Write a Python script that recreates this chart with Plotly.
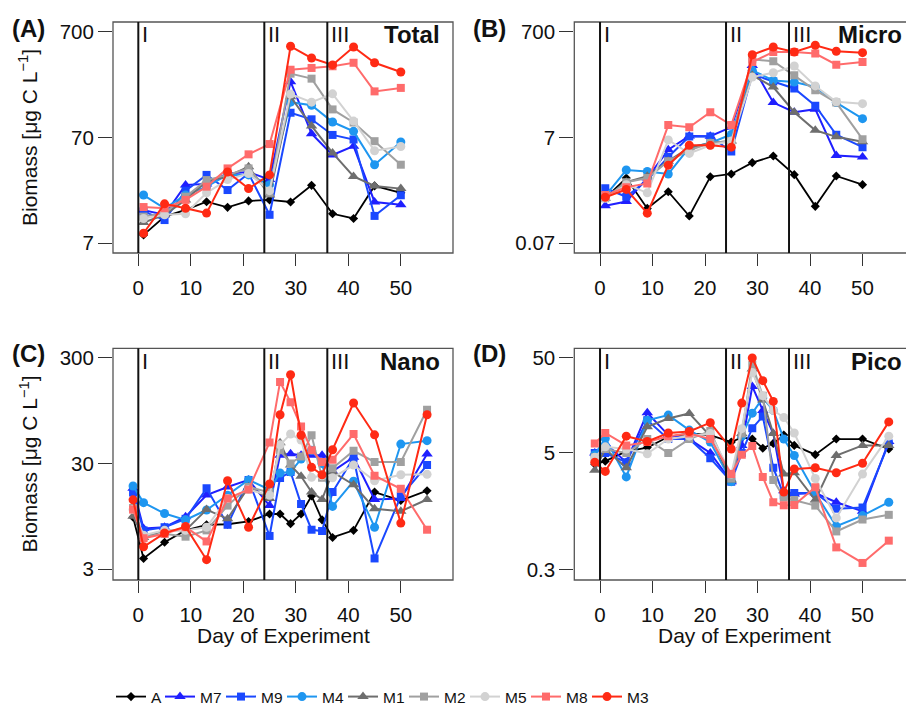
import plotly.graph_objects as go

# ---------------- data ----------------
days_ab = [1, 5, 9, 13, 17, 21, 25, 29, 33, 37, 41, 45, 50]
days_cd = [-1, 1, 5, 9, 13, 17, 21, 25, 27, 29, 31, 33, 35, 37, 41, 45, 50, 55]

series_names = ["A", "M7", "M9", "M4", "M1", "M2", "M5", "M8", "M3"]

total = {
    "A":  [8.4, 12.5, 14.5, 17.3, 15.3, 17.6, 18, 17.2, 24.7, 13.3, 12, 24.4, 21],
    "M7": [14.4, 13, 24.9, 25.5, 32, 33, 28, 236, 76, 47.8, 58, 17.2, 16.2],
    "M9": [14, 11.6, 22, 31, 22.3, 32, 13, 120, 104, 74, 67, 12.7, 19.9],
    "M4": [20, 15, 20, 24, 31, 31, 25, 151, 141, 98, 80, 38.7, 63.5],
    "M1": [11, 13, 18, 27, 30, 37, 20, 170, 90, 50, 30, 24.4, 23],
    "M2": [12.5, 13.5, 19.3, 27.7, 31, 35.7, 21, 281, 252, 129, 97, 64.6, 38.7],
    "M5": [12, 13, 13.3, 21, 28, 32, 22, 180, 151, 181, 100, 52.5, 57.6],
    "M8": [15.4, 15, 18, 24, 35.7, 48.5, 60.7, 306, 318, 330, 356, 191, 206],
    "M3": [8.7, 16.5, 15, 13.5, 33, 23, 31, 510, 395, 340, 502, 356, 291],
}

micro = {
    "A":  [0.50, 1.2, 0.32, 0.66, 0.23, 1.27, 1.43, 2.34, 3.13, 1.39, 0.35, 1.31, 0.90],
    "M7": [0.36, 0.43, 1.2, 4.1, 7.5, 7.4, 11, 160, 32, 21, 24, 3.2, 3.0],
    "M9": [0.77, 0.53, 1.1, 3.0, 7.3, 7.3, 3.8, 110, 80, 59, 28, 7.9, 4.6],
    "M4": [0.55, 1.7, 1.6, 1.43, 4.5, 5.5, 8, 130, 84, 78, 63, 32, 15.9],
    "M1": [0.5, 1.0, 1.3, 2.5, 4.5, 5.5, 6, 105, 63, 21, 9.6, 7.2, 5.8],
    "M2": [0.5, 1.0, 1.2, 2.5, 4.0, 5.5, 6, 210, 193, 105, 55, 32, 6.5],
    "M5": [0.5, 0.9, 0.63, 6.3, 3.5, 5.0, 6, 97, 117, 157, 66, 33, 30.5],
    "M8": [0.57, 0.8, 0.95, 12, 10.9, 21, 12, 187, 290, 290, 270, 166, 187],
    "M3": [0.52, 0.73, 0.26, 2.1, 5.0, 5.0, 4.6, 257, 360, 289, 387, 298, 281],
}

nano = {
    "A":  [9.3, 3.8, 5.4, 7.0, 7.9, 8.0, 8.5, 10, 10, 8.1, 10, 14.8, 8.8, 6.0, 7.0, 16.1, 13.4, 16.6],
    "M7": [17.5, 7.3, 7.5, 9.4, 15.1, 18, 21, 12, 36, 37, 36, 36, 36, 25.3, 34.4, 13.7, 14, 36.9],
    "M9": [16, 7, 7.5, 9, 17.5, 7.9, 21, 6.2, 21.9, 25, 12.4, 7.1, 6.9, 16.1, 34, 3.8, 14.7, 29],
    "M4": [18.4, 12.8, 10.1, 8.8, 10.9, 15, 21, 17, 24.4, 25, 33, 40, 30, 11.8, 20.4, 7.5, 45.8, 49.3],
    "M1": [9.5, 6, 7, 7, 11, 9, 18, 14, 47, 29, 22.7, 16.1, 13.7, 25, 18.9, 11.2, 10.6, 13.7],
    "M2": [11.4, 6.1, 6.5, 6.1, 7, 12, 18, 16, 40, 30, 35, 55.5, 22, 27, 39.6, 31, 31, 96.8],
    "M5": [11, 6.3, 7, 7, 7.5, 14, 17, 15, 45, 57, 50, 22.2, 23, 22, 29, 20.6, 23.5, 23.7],
    "M8": [11, 5.9, 6.5, 7.5, 5.5, 14, 17, 47.5, 177, 114, 67, 40, 31, 32.6, 57, 23, 17.3, 7.1],
    "M3": [13.6, 4.9, 6.6, 7.6, 3.7, 20.6, 7.5, 19.2, 86.7, 207, 55.5, 27.6, 23.5, 40.5, 112, 56, 8.2, 86.7],
}

pico = {
    "A":  [3.8, 4.1, 5.2, 5.7, 7.4, 8.0, 7.7, 6.5, 7.3, 7.0, 5.6, 6.3, 7.7, 6.0, 4.8, 7.0, 7.0, 5.5],
    "M7": [5.0, 6.3, 4.0, 13.2, 7.7, 7.0, 5.0, 2.5, 6, 25, 14, 8, 2.0, 1.85, 1.9, 1.52, 1.22, 6.6],
    "M9": [5, 5, 4, 11, 7, 7, 4.4, 2.5, 5, 9.1, 12.1, 3.5, 1.8, 1.9, 1.9, 1.3, 1.34, 6.3],
    "M4": [4.8, 7.1, 2.8, 11, 12.5, 8.7, 6.5, 2.5, 7.5, 13.1, 18.9, 14, 7, 4.7, 1.9, 0.85, 1.1, 1.52],
    "M1": [3.3, 5.5, 3.5, 9.4, 11.5, 13, 7.5, 2.6, 8, 38, 18, 8, 3, 3.1, 1.6, 4.7, 6.0, 6.0],
    "M2": [4.5, 5.5, 5, 7, 5.0, 7, 8.5, 2.7, 8, 42, 20, 2.6, 1.7, 1.6, 1.4, 0.75, 1.0, 1.12],
    "M5": [4.5, 5.8, 5.5, 4.9, 7, 7.5, 8, 3, 9, 35, 20, 14, 11.8, 8.1, 2.7, 1.04, 3.0, 7.5],
    "M8": [6.3, 8.1, 6, 6.5, 7.5, 8, 7, 3, 4.8, 5.9, 2.8, 1.52, 1.41, 1.42, 2.18, 0.51, 0.35, 0.60],
    "M3": [4.0, 3.2, 7.5, 6.6, 8.1, 8.4, 10.4, 5.5, 16.7, 49.7, 28.7, 17.4, 1.94, 3.4, 3.5, 3.1, 3.9, 10.6],
}

x_ticks = [0, 10, 20, 30, 40, 50]
y_ticks_total = [7, 70, 700]
y_ticks_micro = [0.07, 7, 700]
y_ticks_nano = [3, 30, 300]
y_ticks_pico = [0.3, 5, 50]
phase_days = [0, 24, 36]
phase_labels = ["I", "II", "III"]

# ---------------- styling ----------------
W, H = 906, 706
FONT = "Liberation Sans, Arial, Helvetica, sans-serif"

styles = {
    "A":  dict(color="#000000", symbol="diamond", size=7, lw=1.8),
    "M7": dict(color="#1f1fff", symbol="triangle-up", size=10, lw=2),
    "M9": dict(color="#1a48ff", symbol="square", size=8, lw=2),
    "M4": dict(color="#1e96f0", symbol="circle", size=9, lw=2),
    "M1": dict(color="#6e6e6e", symbol="triangle-up", size=10, lw=2),
    "M2": dict(color="#a0a0a0", symbol="square", size=8, lw=2),
    "M5": dict(color="#d2d2d2", symbol="circle", size=9, lw=2),
    "M8": dict(color="#ff6b6b", symbol="square", size=8, lw=2),
    "M3": dict(color="#ff2a14", symbol="circle", size=9, lw=2),
}
legend_widths = {"A": 4, "M3": 26}  # px of text slot per legend entry (others 16)

def pxx(x):
    return x / W

def pyy(y):
    return 1 - y / H

panels = [
    dict(key="", data=total, days=days_ab, yt=y_ticks_total, yr=[0.753, 2.937],
         xd=[113 / W, 453 / W], yd=[pyy(253), pyy(22)], xr=[-4.82, 59.94],
         name="Total", lab="(A)", labx=10, laby=28, full=True),
    dict(key="2", data=micro, days=days_ab, yt=y_ticks_micro, yr=[-1.338, 3.028],
         xd=[574.3 / W, 1.0], yd=[pyy(253), pyy(22)], xr=[-4.9, 58.28],
         name="Micro", lab="(B)", labx=471, laby=28, full=False),
    dict(key="3", data=nano, days=days_cd, yt=y_ticks_nano, yr=[0.376, 2.566],
         xd=[113 / W, 453 / W], yd=[pyy(580), pyy(348.3)], xr=[-4.82, 59.94],
         name="Nano", lab="(C)", labx=10, laby=353, full=True),
    dict(key="4", data=pico, days=days_cd, yt=y_ticks_pico, yr=[-0.635, 1.798],
         xd=[574.3 / W, 1.0], yd=[pyy(580), pyy(348.3)], xr=[-4.9, 58.28],
         name="Pico", lab="(D)", labx=471, laby=353, full=False),
]

fig = go.Figure()
shapes = []
annotations = []

for pi, p in enumerate(panels):
    k = p["key"]
    for nm in series_names:
        st = styles[nm]
        fig.add_trace(go.Scatter(
            x=p["days"], y=p["data"][nm], name=nm,
            mode="lines+markers",
            line=dict(color=st["color"], width=st["lw"]),
            marker=dict(color=st["color"], symbol=st["symbol"], size=st["size"]),
            xaxis="x" + k, yaxis="y" + k,
            showlegend=(pi == 0), legendgroup=nm,
            legendwidth=legend_widths.get(nm, 16),
            cliponaxis=True,
        ))
    ax = dict(domain=p["xd"], range=p["xr"], tickvals=x_ticks,
              ticks="outside", ticklen=12, tickwidth=1.3, tickcolor="#333333",
              showgrid=False, zeroline=False, showline=False,
              tickfont=dict(family=FONT, size=20.5, color="#111111"),
              anchor="y" + k, ticklabelstandoff=4)
    ay = dict(domain=p["yd"], type="log", range=p["yr"], tickvals=p["yt"],
              ticktext=[str(v) for v in p["yt"]],
              ticks="outside", ticklen=14, tickwidth=1.3, tickcolor="#333333",
              showgrid=False, zeroline=False, showline=False,
              tickfont=dict(family=FONT, size=20.5, color="#111111"),
              anchor="x" + k)
    fig.update_layout(**{"xaxis" + k: ax, "yaxis" + k: ay})

    xref_dom = ("x" + k) + " domain"
    yref_dom = ("y" + k) + " domain"
    # plot box (right edge of right-column panels lies beyond the canvas)
    shapes.append(dict(type="rect", xref=xref_dom, yref=yref_dom,
                       x0=0, x1=1 if p["full"] else 1.05, y0=0, y1=1,
                       line=dict(color="#555555", width=1.3), layer="above"))
    for d, lab in zip(phase_days, phase_labels):
        shapes.append(dict(type="line", xref="x" + k, yref=yref_dom,
                           x0=d, x1=d, y0=0, y1=1,
                           line=dict(color="#111111", width=2), layer="above"))
        annotations.append(dict(text=lab, xref="x" + k, yref=yref_dom,
                                x=d, y=0.944, xanchor="left", yanchor="middle",
                                xshift=2, showarrow=False,
                                font=dict(family=FONT, size=22, color="#111111")))
    annotations.append(dict(text="<b>" + p["name"] + "</b>", xref="x" + k, yref=yref_dom,
                            x=57.85, y=0.944, xanchor="right", yanchor="middle",
                            showarrow=False,
                            font=dict(family=FONT, size=24, color="#111111")))
    annotations.append(dict(text="<b>" + p["lab"] + "</b>", xref="paper", yref="paper",
                            x=pxx(p["labx"]), y=pyy(p["laby"]), xanchor="left",
                            yanchor="middle", showarrow=False,
                            font=dict(family=FONT, size=24, color="#111111")))

# axis titles
for yc in [137.5, 464]:
    annotations.append(dict(text="Biomass [μg C L<sup>−1</sup>]", xref="paper", yref="paper",
                            x=pxx(28.5), y=pyy(yc), textangle=-90,
                            xanchor="center", yanchor="middle", showarrow=False,
                            font=dict(family=FONT, size=21, color="#111111")))
for xc in [283, 744.5]:
    annotations.append(dict(text="Day of Experiment", xref="paper", yref="paper",
                            x=pxx(xc), y=pyy(635), xanchor="center", yanchor="middle",
                            showarrow=False,
                            font=dict(family=FONT, size=21, color="#111111")))

fig.update_layout(
    width=W, height=H,
    margin=dict(l=0, r=0, t=0, b=0, autoexpand=False),
    paper_bgcolor="white", plot_bgcolor="white",
    shapes=shapes, annotations=annotations,
    showlegend=True,
    legend=dict(orientation="h", x=pxx(111), xanchor="left",
                y=pyy(697), yanchor="middle",
                font=dict(family=FONT, size=15.5, color="#111111"),
                bgcolor="rgba(0,0,0,0)", itemwidth=30, tracegroupgap=0,
                entrywidthmode="pixels",
                itemclick=False),
    font=dict(family=FONT),
)

fig.write_html("out.html")
